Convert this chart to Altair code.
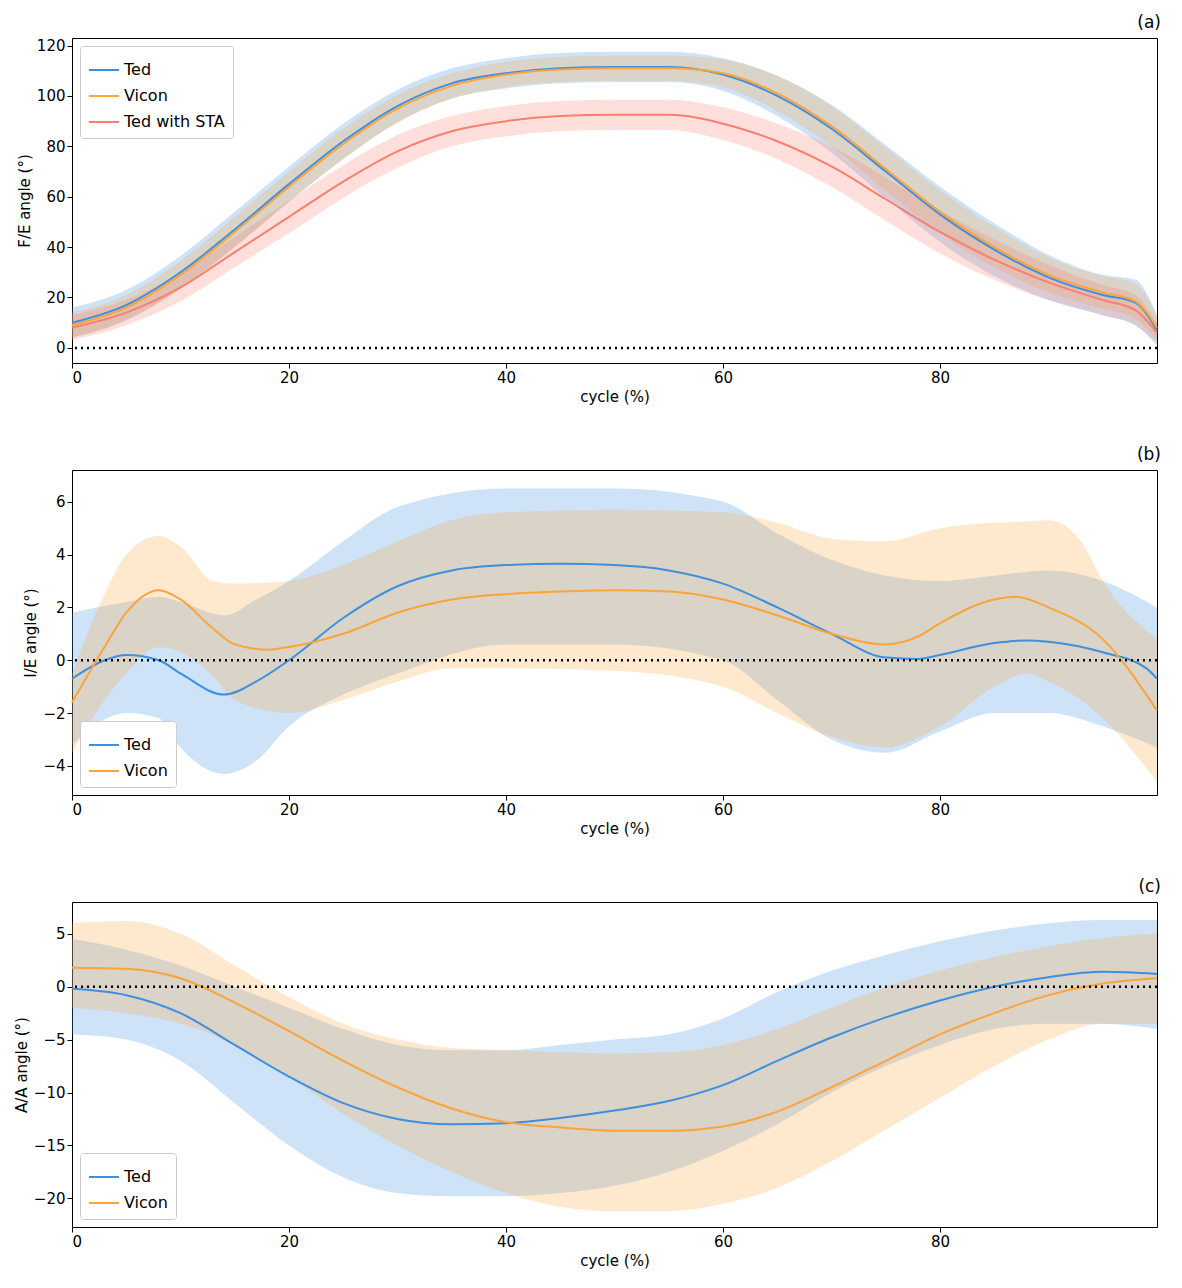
import altair as alt
import pandas as pd

# ---- panel (a): F/E angle, mean and sd at sample points
a_x = [0, 5, 10, 15, 20, 25, 30, 35, 40, 45, 50, 55, 60, 65, 70, 75, 80, 85, 90, 95, 98, 100]
a_ted = [10, 17, 30, 47, 65, 82, 96, 105, 109, 111, 111.5, 111.5, 108.5, 100, 87, 70, 53, 39, 28, 21, 18, 7]
a_ted_sd = [6, 6, 6.5, 7, 7, 7, 6.5, 6, 6, 6, 6, 6, 6.5, 8, 9.5, 10.5, 11, 10.5, 9, 8, 9, 6]
a_vicon = [9, 16, 29, 46, 64, 81, 95, 104, 108.5, 110.5, 111, 111, 109, 101, 88, 71, 54, 40, 29, 22, 18.5, 8]
a_vicon_sd = [5, 5, 5.5, 6, 6, 6, 5.5, 5, 5, 5, 5, 5, 5.5, 7, 8, 8.5, 8.5, 8, 7, 6.5, 7, 5]
a_sta = [8, 14, 24, 38, 52, 66, 78, 86, 90, 92, 92.5, 92.5, 89, 82, 72, 59, 46, 35, 26, 19, 15, 6]
a_sta_sd = [5, 5, 5.5, 6, 6.5, 6.5, 6.5, 6, 6, 6, 6, 6, 6.5, 7, 8, 8.5, 8.5, 8, 7, 6, 6, 4]

# ---- panel (b): I/E angle, mean and band limits
b_ted_x = [0, 3, 5, 8, 10, 14, 17, 20, 25, 30, 35, 40, 45, 50, 55, 60, 65, 70, 75, 78, 80, 85, 88, 90, 95, 99, 100]
b_ted = [-0.7, 0, 0.2, 0, -0.5, -1.3, -0.8, 0, 1.6, 2.8, 3.4, 3.6, 3.65, 3.6, 3.4, 2.9, 2, 1, 0.1, 0.05, 0.2, 0.65, 0.75, 0.7, 0.3, -0.3, -0.7]
b_ted_band_x = [0, 5, 8, 10, 14, 17, 20, 25, 30, 40, 50, 60, 65, 70, 75, 80, 85, 90, 95, 100]
b_ted_hi = [1.8, 2.2, 2.4, 2.2, 1.7, 2.3, 3.0, 4.5, 5.8, 6.5, 6.5, 6.0, 4.8, 3.8, 3.2, 3.0, 3.2, 3.4, 3.0, 2.0]
b_ted_lo = [-3.2, -2.0, -2.2, -3.3, -4.3, -3.8, -2.5, -1.3, -0.5, 0.6, 0.6, 0.0, -1.5, -3.0, -3.5, -2.7, -2.0, -2.0, -2.5, -3.3]
b_vic_x = [0, 3, 5, 8, 10, 13, 15, 18, 20, 25, 30, 35, 40, 45, 50, 55, 60, 65, 70, 75, 78, 80, 85, 87, 90, 95, 100]
b_vicon = [-1.6, 0.5, 1.8, 2.65, 2.3, 1.2, 0.6, 0.4, 0.5, 1, 1.8, 2.3, 2.5, 2.6, 2.65, 2.6, 2.3, 1.7, 1, 0.6, 0.9, 1.4, 2.3, 2.4, 2.0, 0.8, -1.9]
b_vic_band_x = [0, 3, 5, 8, 10, 13, 15, 20, 25, 30, 35, 40, 50, 60, 65, 70, 75, 80, 85, 88, 90, 93, 95, 100]
b_vicon_hi = [-0.5, 2.5, 4.0, 4.7, 4.3, 3.0, 2.9, 3.0, 3.6, 4.5, 5.3, 5.6, 5.7, 5.6, 5.2, 4.6, 4.5, 5.0, 5.2, 5.25, 5.3, 4.5, 3.0, 0.8]
b_vicon_lo = [-3.5, -1.5, -0.5, 0.5, 0.3, -0.6, -1.5, -2.0, -1.5, -0.8, -0.3, -0.3, -0.4, -1.0, -2.0, -2.9, -3.3, -2.5, -1.0, -0.5, -0.8, -1.5, -2.2, -4.6]

# ---- panel (c): A/A angle, mean and band limits
c_x = [0, 5, 10, 15, 20, 25, 30, 35, 40, 45, 50, 55, 60, 65, 70, 75, 80, 85, 90, 95, 100]
c_ted = [-0.2, -0.8, -2.5, -5.5, -8.5, -11, -12.5, -13, -12.9, -12.4, -11.7, -10.8, -9.3, -7, -4.8, -2.9, -1.3, 0, 0.9, 1.4, 1.2]
c_ted_lo = [-4.5, -5, -7, -11, -15, -18, -19.5, -19.8, -19.8, -19.5, -18.8, -17.5, -15.5, -13, -10, -7.5, -5.5, -4, -3.5, -3.5, -4]
c_ted_hi = [4.5, 3.5, 2, 0, -2, -4, -5.5, -6, -6, -5.5, -5, -4.5, -3, -0.5, 1.5, 3, 4.3, 5.3, 6, 6.3, 6.3]
c_vicon = [1.8, 1.7, 0.8, -1.5, -4.2, -7, -9.5, -11.5, -12.8, -13.3, -13.6, -13.6, -13.2, -11.8, -9.5, -7, -4.5, -2.5, -0.8, 0.3, 0.8]
c_vicon_hi = [6, 6.2, 5, 2, -1, -3.5, -5, -5.8, -6, -6.2, -6.3, -6.2, -5.5, -4, -2, 0, 1.5, 2.8, 3.8, 4.6, 5]
c_vicon_lo = [-2, -2.5, -3.5, -5.5, -8.5, -12, -15, -17.5, -19.5, -20.8, -21.2, -21.2, -20.5, -19, -16.5, -13.5, -10.5, -7.5, -5, -3.5, -3.5]

COLORS = {"Ted": "#3d8fe0", "Vicon": "#fca33a", "Ted with STA": "#fa7f6e"}
W, H = 1085, 325


def frame(series, x, mean, lo, hi, bx=None):
    line = pd.DataFrame({"x": x, "y": mean, "s": series})
    bx = x if bx is None else bx
    band = pd.DataFrame({"x": bx, "lo": lo, "hi": hi})
    return series, line, band


def panel(parts, ydom, ytitle, ytick, tag, legend_orient):
    lines = pd.concat([p[1] for p in parts])
    names = [p[0] for p in parts]
    scale = alt.Scale(domain=names, range=[COLORS[n] for n in names])
    xenc = alt.X("x:Q", scale=alt.Scale(domain=[0, 100], nice=False), title="cycle (%)",
                 axis=alt.Axis(values=[0, 20, 40, 60, 80], grid=False))
    yscale = alt.Scale(domain=ydom, nice=False, zero=False)
    areas = [
        alt.Chart(band).mark_area(opacity=0.25, interpolate="monotone", color=COLORS[name]).encode(
            x=xenc,
            y=alt.Y("lo:Q", scale=yscale, title=ytitle, axis=alt.Axis(values=ytick, grid=False)),
            y2="hi:Q",
        )
        for name, _, band in parts
    ]
    line = alt.Chart(lines).mark_line(strokeWidth=2, interpolate="monotone").encode(
        x=xenc,
        y=alt.Y("y:Q", scale=yscale),
        color=alt.Color("s:N", scale=scale, sort=names, title=None,
                        legend=alt.Legend(orient=legend_orient, symbolType="stroke",
                                          symbolStrokeWidth=2, symbolSize=900,
                                          labelFontSize=16, strokeColor="#cccccc",
                                          fillColor="white", padding=8, cornerRadius=3,
                                          offset=8)),
    )
    zero = alt.Chart(pd.DataFrame({"y": [0]})).mark_rule(
        color="black", strokeDash=[2, 4], strokeWidth=2.5
    ).encode(y=alt.Y("y:Q", scale=yscale))
    return alt.layer(*areas, line, zero).properties(
        width=W, height=H,
        title=alt.TitleParams(tag, anchor="end", fontSize=17, fontWeight="normal", offset=6),
    )


pa = panel(
    [
        frame("Ted", a_x, a_ted, [m - s for m, s in zip(a_ted, a_ted_sd)], [m + s for m, s in zip(a_ted, a_ted_sd)]),
        frame("Vicon", a_x, a_vicon, [m - s for m, s in zip(a_vicon, a_vicon_sd)], [m + s for m, s in zip(a_vicon, a_vicon_sd)]),
        frame("Ted with STA", a_x, a_sta, [m - s for m, s in zip(a_sta, a_sta_sd)], [m + s for m, s in zip(a_sta, a_sta_sd)]),
    ],
    [-6, 123], "F/E angle (°)", [0, 20, 40, 60, 80, 100, 120], "(a)", "top-left",
)
pb = panel(
    [
        frame("Ted", b_ted_x, b_ted, b_ted_lo, b_ted_hi, b_ted_band_x),
        frame("Vicon", b_vic_x, b_vicon, b_vicon_lo, b_vicon_hi, b_vic_band_x),
    ],
    [-5.1, 7.2], "I/E angle (°)", [-4, -2, 0, 2, 4, 6], "(b)", "bottom-left",
)
pc = panel(
    [
        frame("Ted", c_x, c_ted, c_ted_lo, c_ted_hi),
        frame("Vicon", c_x, c_vicon, c_vicon_lo, c_vicon_hi),
    ],
    [-22.7, 8.0], "A/A angle (°)", [-20, -15, -10, -5, 0, 5], "(c)", "bottom-left",
)

chart = alt.vconcat(pa, pb, pc, spacing=40).resolve_scale(
    color="independent"
).configure(font="DejaVu Sans").configure_view(
    stroke="black", strokeWidth=1
).configure_axis(
    labelFontSize=15, titleFontSize=15, titleFontWeight="normal", domain=False,
    tickColor="black", labelColor="black", titleColor="black",
)
chart.save("out.html", embed_options={"renderer": "svg", "actions": False})
